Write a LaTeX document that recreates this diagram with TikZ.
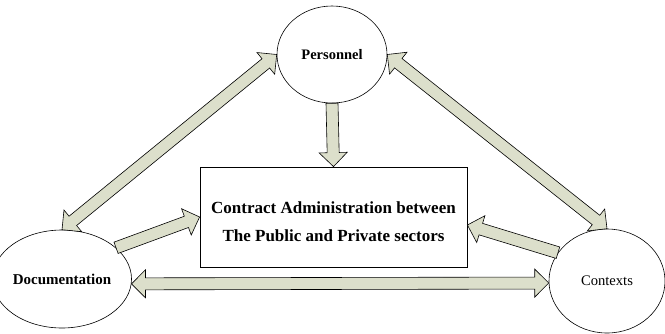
\documentclass[tikz,border=0pt]{standalone}
\usepackage{fontspec}
\setmainfont{Liberation Serif}
\usetikzlibrary{shapes.geometric,calc}
\definecolor{arrowfill}{HTML}{DCDFCB}
% block-arrow dimensions
\newcommand\fatShaft{6pt}
\newcommand\fatHead{14pt}
\newcommand\fatLen{14pt}
\tikzset{
  fatbase/.style={draw=black, line width=0.6pt, fill=arrowfill, line join=miter},
  % outlined block arrow with one head at the target
  fatone/.style={fatbase, to path={
    let \p1=(\tikztostart), \p2=(\tikztotarget),
        \n1={atan2(\y2-\y1,\x2-\x1)}, \n2={veclen(\x2-\x1,\y2-\y1)} in
    ($(\p1)+({\n1+90}:\fatShaft)$)
    -- ($(\p1)+(\n1:{\n2-\fatLen})+({\n1+90}:\fatShaft)$)
    -- ($(\p1)+(\n1:{\n2-\fatLen})+({\n1+90}:\fatHead)$)
    -- (\p2)
    -- ($(\p1)+(\n1:{\n2-\fatLen})+({\n1-90}:\fatHead)$)
    -- ($(\p1)+(\n1:{\n2-\fatLen})+({\n1-90}:\fatShaft)$)
    -- ($(\p1)+({\n1-90}:\fatShaft)$) -- cycle}},
  % outlined block arrow with heads at both ends
  fattwo/.style={fatbase, to path={
    let \p1=(\tikztostart), \p2=(\tikztotarget),
        \n1={atan2(\y2-\y1,\x2-\x1)}, \n2={veclen(\x2-\x1,\y2-\y1)} in
    ($(\p1)+(\n1:\fatLen)+({\n1+90}:\fatShaft)$)
    -- ($(\p1)+(\n1:{\n2-\fatLen})+({\n1+90}:\fatShaft)$)
    -- ($(\p1)+(\n1:{\n2-\fatLen})+({\n1+90}:\fatHead)$)
    -- (\p2)
    -- ($(\p1)+(\n1:{\n2-\fatLen})+({\n1-90}:\fatHead)$)
    -- ($(\p1)+(\n1:{\n2-\fatLen})+({\n1-90}:\fatShaft)$)
    -- ($(\p1)+(\n1:\fatLen)+({\n1-90}:\fatShaft)$)
    -- ($(\p1)+(\n1:\fatLen)+({\n1-90}:\fatHead)$)
    -- (\p1)
    -- ($(\p1)+(\n1:\fatLen)+({\n1+90}:\fatHead)$) -- cycle}},
  topic/.style={ellipse, draw, line width=0.6pt, fill=white, inner sep=0pt},
  mainbox/.style={draw, line width=0.8pt, fill=white, minimum width=267pt, minimum height=100pt}
}
\begin{document}
\begin{tikzpicture}[x=1pt, y=-1pt]
  \useasboundingbox[fill=white] (0,0) rectangle (665,333);

  % central box
  \node[mainbox] (box) at (333.5,217) {};
  \node[align=center, font=\bfseries\fontsize{17}{28}\selectfont] (boxtext) at (333.5,222)
    {Contract Administration between\\The Public and Private sectors};

  % the three topics
  \node[topic, minimum width=110pt, minimum height=97pt,
        font=\bfseries\fontsize{14.5}{17}\selectfont] (pers) at (332,54.5) {Personnel};
  \node[topic, minimum width=110pt, minimum height=98pt,
        font=\bfseries\fontsize{15}{18}\selectfont] (doc) at (62,279) {Documentation};
  \node[topic, minimum width=116pt, minimum height=104pt,
        font=\fontsize{14.6}{18}\selectfont] (ctx) at (607,281) {Contexts};

  \coordinate (boxR) at ($(box.east)+(0,8)$);

  % relations between topics
  \draw[fattwo] (doc.north) to (pers.west);
  \draw[fattwo] (pers.east) to (ctx.north);
  \draw[fattwo] (doc.-4) to (ctx.182);

  % influences on the central box
  \draw[fatone] (pers.south) to (box.north);
  \draw[fatone] (doc.30) to (box.west);
  \draw[fatone] (ctx.150) to (boxR);
\end{tikzpicture}
\end{document}
